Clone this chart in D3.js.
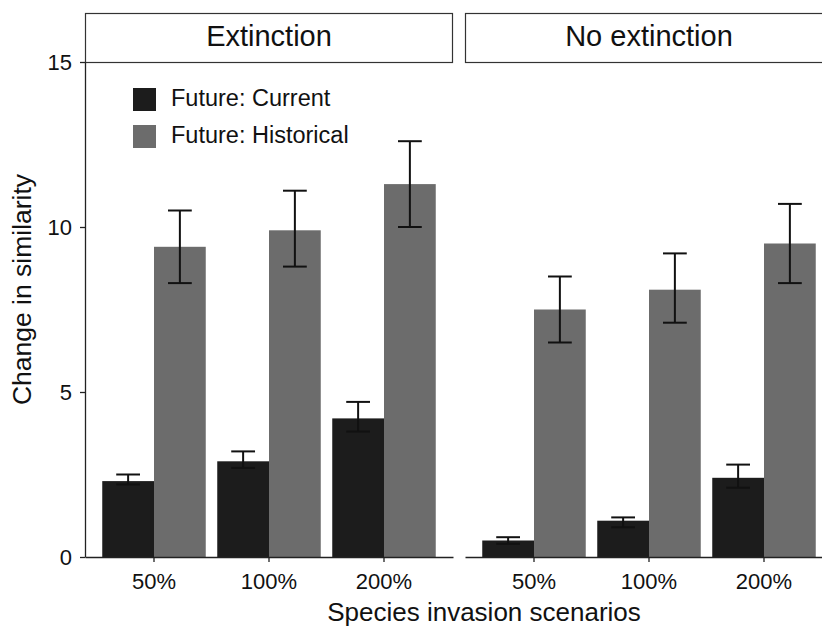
<!DOCTYPE html>
<html>
<head>
<meta charset="utf-8">
<script src="https://cdn.jsdelivr.net/npm/d3@7/dist/d3.min.js"></script>
<style>
  html, body { margin: 0; padding: 0; background: #fff; }
  svg { display: block; font-family: "Liberation Sans", Arial, Helvetica, sans-serif; }
</style>
</head>
<body>
<svg id="chart" width="822" height="627"></svg>
<script>
// Facets, groups and series
const panels = ["Extinction", "No extinction"];
const scenarios = ["50%", "100%", "200%"];
const series = ["Future: Current", "Future: Historical"];
const seriesColors = ["#1c1c1c", "#6c6c6c"];
const yTicks = [0, 5, 10, 15];

// Extinction panel: means and error-bar limits
const extCurrent   = [2.3, 2.9, 4.2];
const extCurrentLo = [2.2, 2.7, 3.8];
const extCurrentHi = [2.5, 3.2, 4.7];
const extHist      = [9.4, 9.9, 11.3];
const extHistLo    = [8.3, 8.8, 10.0];
const extHistHi    = [10.5, 11.1, 12.6];

// No-extinction panel: means and error-bar limits
const noCurrent    = [0.5, 1.1, 2.4];
const noCurrentLo  = [0.4, 0.9, 2.1];
const noCurrentHi  = [0.6, 1.2, 2.8];
const noHist       = [7.5, 8.1, 9.5];
const noHistLo     = [6.5, 7.1, 8.3];
const noHistHi     = [8.5, 9.2, 10.7];

const panelData = [
  [[extCurrent, extCurrentLo, extCurrentHi], [extHist, extHistLo, extHistHi]],
  [[noCurrent, noCurrentLo, noCurrentHi], [noHist, noHistLo, noHistHi]]
];

const svg = d3.select("#chart");

// Layout
const panelLeft = [85, 465];
const panelW = 368;
const plotTop = 62, plotBottom = 557;
const stripTop = 13;

const y = d3.scaleLinear().domain([0, 15]).range([plotBottom, plotTop]);

const x = d3.scaleBand().domain(scenarios)
  .range([0, panelW]).paddingInner(0.1).paddingOuter(0.15);
const xs = d3.scaleBand().domain(series).range([0, x.bandwidth()]);
const color = d3.scaleOrdinal().domain(series).range(seriesColors);

panels.forEach((name, pi) => {
  const g = svg.append("g").attr("transform", `translate(${panelLeft[pi]},0)`);

  // Strip
  g.append("rect")
    .attr("x", 0.5).attr("y", stripTop + 0.5)
    .attr("width", panelW - 1).attr("height", plotTop - stripTop)
    .attr("fill", "#fff").attr("stroke", "#333").attr("stroke-width", 1.2);
  g.append("text")
    .attr("x", panelW / 2).attr("y", (stripTop + plotTop) / 2 + 1)
    .attr("text-anchor", "middle").attr("dominant-baseline", "middle")
    .attr("font-size", 29).attr("fill", "#111").text(name);

  // Bars
  const rows = [];
  scenarios.forEach((s, i) => {
    series.forEach((se, k) => {
      const [m, lo, hi] = panelData[pi][k];
      rows.push({ s, se, v: m[i], lo: lo[i], hi: hi[i] });
    });
  });

  g.selectAll("rect.bar").data(rows).join("rect")
    .attr("class", "bar")
    .attr("x", d => x(d.s) + xs(d.se))
    .attr("width", xs.bandwidth())
    .attr("y", d => y(d.v))
    .attr("height", d => y(0) - y(d.v))
    .attr("fill", d => color(d.se));

  // Error bars
  const capW = xs.bandwidth() * 0.46;
  const eb = g.selectAll("g.err").data(rows).join("g").attr("class", "err")
    .attr("stroke", "#111").attr("stroke-width", 2);
  const cx = d => x(d.s) + xs(d.se) + xs.bandwidth() / 2;
  eb.append("line").attr("x1", cx).attr("x2", cx)
    .attr("y1", d => y(d.lo)).attr("y2", d => y(d.hi));
  eb.append("line").attr("x1", d => cx(d) - capW / 2).attr("x2", d => cx(d) + capW / 2)
    .attr("y1", d => y(d.hi)).attr("y2", d => y(d.hi));
  eb.append("line").attr("x1", d => cx(d) - capW / 2).attr("x2", d => cx(d) + capW / 2)
    .attr("y1", d => y(d.lo)).attr("y2", d => y(d.lo));

  // X axis
  const xa = g.append("g").attr("transform", `translate(0,${plotBottom})`)
    .call(d3.axisBottom(x).tickSize(5).tickPadding(11).tickSizeOuter(0));
  xa.select(".domain").attr("stroke", "#222").attr("stroke-width", 1.3);
  xa.selectAll(".tick line").attr("stroke", "#222").attr("stroke-width", 1.3);
  xa.selectAll(".tick text").attr("font-size", 22).attr("fill", "#111")
    .attr("font-family", "'Liberation Sans', Arial, sans-serif");

  // Y axis only on the first panel
  if (pi === 0) {
    const ya = g.append("g")
      .call(d3.axisLeft(y).tickValues(yTicks).tickSize(5).tickPadding(8).tickSizeOuter(0));
    ya.select(".domain").attr("stroke", "#222").attr("stroke-width", 1.3);
    ya.selectAll(".tick line").attr("stroke", "#222").attr("stroke-width", 1.3);
    ya.selectAll(".tick text").attr("font-size", 22).attr("fill", "#111")
      .attr("font-family", "'Liberation Sans', Arial, sans-serif");
  }
});

// Legend
const legend = svg.append("g").attr("transform", "translate(133,88)");
series.forEach((se, k) => {
  const row = legend.append("g").attr("transform", `translate(0,${k * 37})`);
  row.append("rect").attr("width", 23).attr("height", 23).attr("fill", color(se));
  row.append("text").attr("x", 38).attr("y", 12)
    .attr("dominant-baseline", "middle").attr("font-size", 23.5).attr("fill", "#111").text(se);
});

// Axis titles
svg.append("text")
  .attr("transform", `translate(31,${(plotTop + plotBottom) / 2 - 20}) rotate(-90)`)
  .attr("text-anchor", "middle").attr("font-size", 26.5).attr("fill", "#111")
  .text("Change in similarity");
svg.append("text")
  .attr("x", 484).attr("y", 621)
  .attr("text-anchor", "middle").attr("font-size", 26).attr("fill", "#111")
  .text("Species invasion scenarios");
</script>
</body>
</html>
